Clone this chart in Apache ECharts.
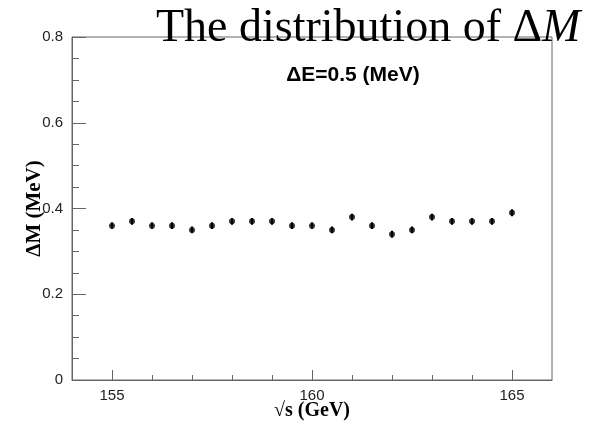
<!DOCTYPE html>
<html><head><meta charset="utf-8">
<script src="https://cdn.jsdelivr.net/npm/echarts@6/dist/echarts.min.js"></script>
<style>html,body{margin:0;padding:0;background:#fff}#c{width:597px;height:426px}</style>
</head><body><div id="c"></div>
<script>
const energies = [155,155.5,156,156.5,157,157.5,158,158.5,159,159.5,160,160.5,161,161.5,162,162.5,163,163.5,164,164.5,165];
const deltaM   = [0.36,0.37,0.36,0.36,0.35,0.36,0.37,0.37,0.37,0.36,0.36,0.35,0.38,0.36,0.34,0.35,0.38,0.37,0.37,0.37,0.39];
const errors   = [0.008,0.008,0.008,0.008,0.008,0.008,0.008,0.008,0.008,0.008,0.008,0.008,0.008,0.008,0.008,0.008,0.008,0.008,0.008,0.008,0.008];
const xMajorTicks = [155,160,165];
const xMinorTicks = [155,156,157,158,159,160,161,162,163,164,165];

const chart = echarts.init(document.getElementById('c'), null, {renderer:'canvas'});
const axisColor = '#666';
const pts = energies.map((e,i)=>[e, deltaM[i], errors[i]]);
chart.setOption({
  animation:false,
  title:[
    {text:'The distribution of Δ{i|M}', left:151, top:1,
     textStyle:{fontFamily:'Liberation Serif', fontSize:46, fontWeight:'normal', color:'#000',
       rich:{i:{fontFamily:'Liberation Serif', fontSize:46, fontStyle:'italic', color:'#000'}}}},
    {text:'ΔE=0.5 (MeV)', left:348, top:60, textAlign:'center',
     textStyle:{fontFamily:'Liberation Sans', fontSize:21, fontWeight:'bold', color:'#000'}}
  ],
  grid:{left:72, right:45, top:37, bottom:46, outerBoundsMode:'none', containLabel:false,
        show:true, borderColor:axisColor, borderWidth:1, backgroundColor:'transparent'},
  xAxis:[
    {type:'value', min:154, max:166, position:'bottom',
     name:'√s (GeV)', nameLocation:'middle', nameGap:21, nameMoveOverlap:false,
     nameTextStyle:{fontFamily:'Liberation Serif', fontSize:20, fontWeight:'bold', color:'#000'},
     axisLine:{show:true, lineStyle:{color:axisColor}},
     axisTick:{show:true, inside:true, length:10, customValues:xMajorTicks, lineStyle:{color:axisColor}},
     axisLabel:{customValues:xMajorTicks, margin:8, fontFamily:'Liberation Sans', fontSize:15, color:'#222'},
     splitLine:{show:false}},
    {type:'value', min:154, max:166, position:'bottom',
     axisLine:{show:false},
     axisTick:{show:true, inside:true, length:5, customValues:xMinorTicks, lineStyle:{color:axisColor}},
     axisLabel:{show:false}, splitLine:{show:false}}
  ],
  yAxis:{type:'value', min:0, max:0.8, interval:0.2,
     name:'ΔM (MeV)', nameLocation:'middle', nameGap:27, nameMoveOverlap:false,
     nameTextStyle:{fontFamily:'Liberation Serif', fontSize:21, fontWeight:'bold', color:'#000'},
     axisLine:{show:true, lineStyle:{color:axisColor}},
     axisTick:{show:true, inside:true, length:14, lineStyle:{color:axisColor}},
     minorTick:{show:true, splitNumber:4, length:7, lineStyle:{color:axisColor}},
     axisLabel:{margin:9, fontFamily:'Liberation Sans', fontSize:15, color:'#222'},
     splitLine:{show:false}, minorSplitLine:{show:false}},
  series:[
    {type:'custom', xAxisIndex:0,
     renderItem:function(params, api){
       const x = api.value(0), y = api.value(1), e = api.value(2);
       const lo = api.coord([x, y - e]), hi = api.coord([x, y + e]);
       return {type:'line', shape:{x1:lo[0], y1:lo[1], x2:hi[0], y2:hi[1]}, style:{stroke:'#000', lineWidth:2}};
     },
     data:pts, z:3},
    {type:'scatter', xAxisIndex:0, symbol:'circle', symbolSize:6, itemStyle:{color:'#000'},
     data:pts.map(p=>[p[0],p[1]]), z:4}
  ]
});
</script></body></html>
